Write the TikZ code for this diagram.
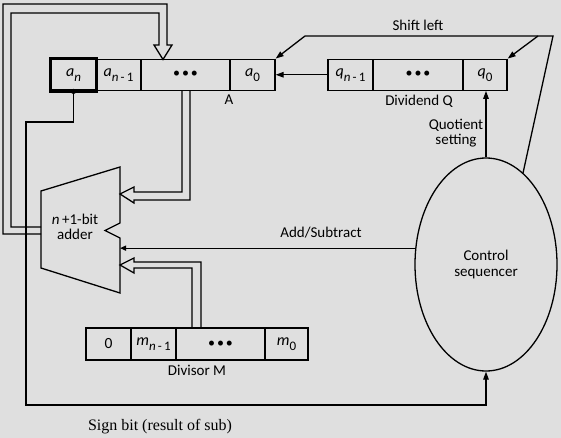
\documentclass[tikz,border=0pt]{standalone}
\usepackage{fontspec}
\setmainfont{Carlito}
\newfontfamily\serifx{Liberation Serif}
\usetikzlibrary{shapes.geometric,arrows.meta}
\definecolor{bg}{RGB}{223,223,223}
\newcommand{\lbl}[2]{{\fontsize{16}{16}\selectfont\itshape #1}\raisebox{-5pt}{\fontsize{13}{13}\selectfont #2}}
\newcommand{\tridots}{{\fontsize{14}{14}\selectfont\textbullet\kern2pt\textbullet\kern2pt\textbullet}}
\begin{document}
\begin{tikzpicture}[x=1pt,y=-1pt,line width=1.3pt,
  cell/.style={draw,rectangle,inner sep=0pt,minimum height=31pt},
  mcell/.style={draw,rectangle,inner sep=0pt,minimum height=32pt},
  lab/.style={font=\fontsize{15}{15.5}\selectfont,inner sep=0pt},
  tip/.style={-{Triangle[length=8pt,width=5.5pt]}},
  smalltip/.style={-{Triangle[length=6pt,width=5pt]}}]
\fill[bg] (0,0) rectangle (561,438);
\useasboundingbox (0,0) rectangle (561,438);

% register A
\node[cell,minimum width=45pt,line width=2.4pt] (an) at (73.5,74.75) {\lbl{a}{\textit{n}}};
\node[cell,minimum width=45pt] (an1) at (118.5,74.75) {\lbl{a}{\textit{n}\,-\,1}};
\node[cell,minimum width=89pt] (adots) at (185.5,74.75) {\tridots};
\node[cell,minimum width=45pt] (a0) at (252.5,74.75) {\lbl{a}{0}};
\draw[line width=2.4pt] (an.north west) rectangle (an.south east);

% register Q
\node[cell,minimum width=45pt] (qn1) at (350.5,74.75) {\lbl{q}{\textit{n}\,-\,1}};
\node[cell,minimum width=90pt] (qdots) at (418,74.75) {\tridots};
\node[cell,minimum width=44pt] (q0) at (485,74.75) {\lbl{q}{0}};

% register M
\node[mcell,minimum width=45pt] (mz) at (108.5,344) {\fontsize{15.5}{15.5}\selectfont 0};
\node[mcell,minimum width=45pt] (mn1) at (153.5,344) {\lbl{m}{\textit{n}\,-\,1}};
\node[mcell,minimum width=89pt] (mdots) at (220.5,344) {\tridots};
\node[mcell,minimum width=43pt] (mm0) at (286.5,344) {\lbl{m}{0}};

% control sequencer
\node[draw,ellipse,minimum width=142pt,minimum height=213pt,inner sep=0pt,align=center,
  font=\fontsize{15}{15.5}\selectfont] (ctl) at (486,264.5) {Control\\sequencer};

% adder
\coordinate (ad1) at (41,191);
\coordinate (ad2) at (120,167);
\coordinate (ad3) at (120,223);
\coordinate (ad4) at (105,230.5);
\coordinate (ad5) at (120,238);
\coordinate (ad6) at (120,293);
\coordinate (ad7) at (41,268);
\draw (ad1) -- (ad2) -- (ad3) -- (ad4) -- (ad5) -- (ad6) -- (ad7) -- cycle;
\node[lab,align=center] (addlbl) at (75,227) {\textit{n}\,+1-bit\\adder};

% hollow arrow: adder output -> A
\coordinate (o1) at (41,227);
\coordinate (o2) at (41,234);
\coordinate (atip) at (163,59.5);
\draw (o1) -- (11,227) -- (11,13) -- (159,13) -- (159,45) -- (154,45) -- (atip) -- (172,45) -- (167,45) -- (167,4) -- (3,4) -- (3,234) -- (o2);

% hollow arrow: A -> adder
\coordinate (i1) at (120,194);
\draw (adots.south -| 182,0) -- (182,192) -- (134,192) -- (134,187) -- (i1) -- (134,203) -- (134,200) -- (190,200) -- (adots.south -| 190,0);

% hollow arrow: M -> adder
\coordinate (i2) at (120,265);
\draw (mdots.north -| 201,0) -- (201,262) -- (134,262) -- (134,258) -- (i2) -- (134,273) -- (134,268) -- (192,268) -- (mdots.north -| 192,0);

% Add/Subtract
\coordinate (asin) at (120,249);
\draw[smalltip] (ctl.167.6) -- (ctl.167.6 -| asin);
\node[lab] (aslbl) at (321,233) {Add/Subtract};

% sign bit
\fill (an.south) circle (2.6pt);
\draw[tip] (an.south) |- (26,122) -- (26,405) -| (ctl.south);
\node[font=\serifx\fontsize{16}{16}\selectfont,inner sep=0pt] (sblbl) at (160,427) {Sign bit (result of sub)};

% Q -> A
\draw[tip] (qn1.west) -- (a0.east);

% quotient setting
\draw[tip] (ctl.north) -- (ctl.north |- q0.south);
\node[lab,align=center] (qslbl) at (456,133) {Quotient\\setting};

% shift left
\coordinate (s1) at (553,36);
\coordinate (s2) at (305,36);
\coordinate (s3) at (538,36);
\draw[tip] (ctl.68.5) -- (s1) -- (s2) -- (a0.north east);
\draw[tip] (s3) -- (q0.north east);
\node[lab] (shlbl) at (418,25) {Shift left};

% register labels
\node[lab] (alab) at (229,100) {A};
\node[lab] (qlab) at (419,101) {Dividend Q};
\node[lab] (mlab) at (197,370) {Divisor M};
\end{tikzpicture}
\end{document}
